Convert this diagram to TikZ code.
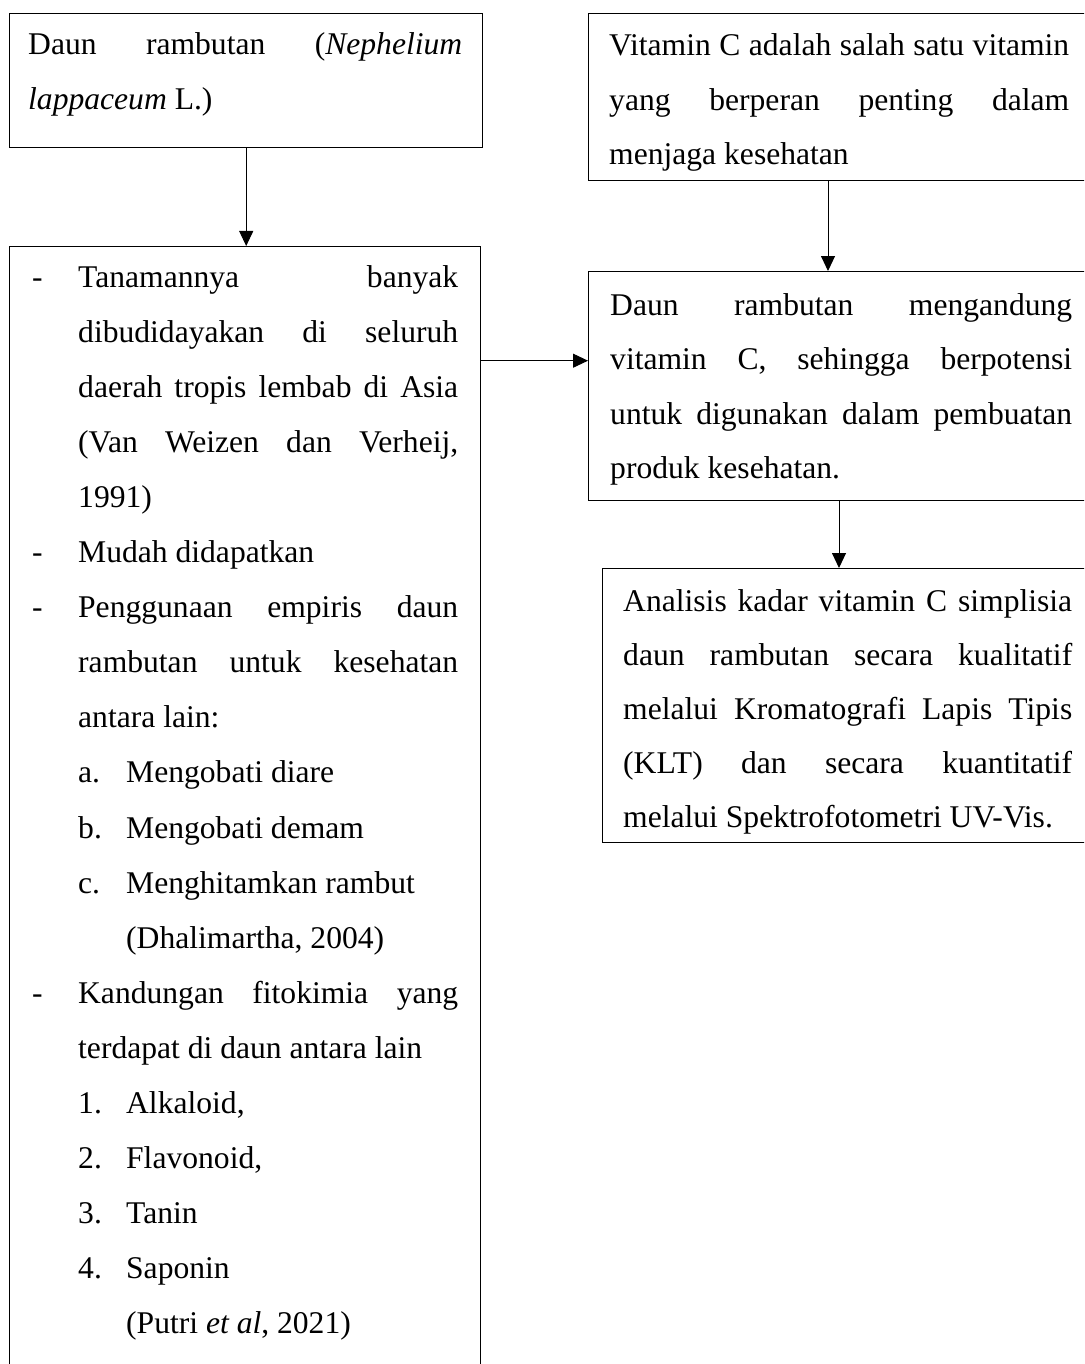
\documentclass[tikz,border=0pt]{standalone}
\usepackage{fontspec}
\setmainfont{Liberation Serif}
\usetikzlibrary{arrows.meta}
\tolerance=10000
\hyphenpenalty=10000
\newcommand{\dashitem}[1]{\noindent\hangindent=46pt\hangafter=1\makebox[46pt][l]{-}#1\par}
\newcommand{\numitem}[2]{\noindent\hspace*{46pt}\makebox[48pt][l]{#1}#2\par}
\newcommand{\citeline}[1]{\noindent\hspace*{94pt}#1\par}

\begin{document}
\begin{tikzpicture}[x=1pt,y=-1pt,
box/.style={draw,line width=1.4pt,inner sep=0pt,anchor=north west},
txt/.style={inner sep=0pt,anchor=base west,align=justify,font=\fontsize{31.6}{54.5}\selectfont},
>={Triangle[length=15pt,width=14pt]}]
\useasboundingbox (0,0) rectangle (1084,1364);
\clip (0,0) rectangle (1084,1364);
% boxes
\node[box,minimum width=473pt,minimum height=134pt] (leaf) at (9,13) {};
\node[box,minimum width=471pt,minimum height=1140pt] (facts) at (9,246) {};
\node[box,minimum width=530pt,minimum height=167pt] (vitc) at (588,13) {};
\node[box,minimum width=530pt,minimum height=229pt] (potential) at (588,271) {};
\node[box,minimum width=520pt,minimum height=274pt] (analysis) at (602,568) {};
% texts
\node[txt,text width=434pt] (leaftxt) at (28,55) {Daun rambutan (\textit{Nephelium}\linebreak \textit{lappaceum} L.)};
\node[txt,text width=426pt,font=\fontsize{31.6}{55.1}\selectfont] (factstxt) at (32,287) {%
\dashitem{Tanamannya banyak\linebreak dibudidayakan di seluruh\linebreak daerah tropis lembab di Asia\linebreak (Van Weizen dan Verheij,\linebreak 1991)}%
\dashitem{Mudah didapatkan}%
\dashitem{Penggunaan empiris daun\linebreak rambutan untuk kesehatan\linebreak antara lain:}%
\numitem{a.}{Mengobati diare}%
\numitem{b.}{Mengobati demam}%
\numitem{c.}{Menghitamkan rambut}%
\citeline{(Dhalimartha, 2004)}%
\dashitem{Kandungan fitokimia yang\linebreak terdapat di daun antara lain}%
\numitem{1.}{Alkaloid,}%
\numitem{2.}{Flavonoid,}%
\numitem{3.}{Tanin}%
\numitem{4.}{Saponin}%
\citeline{(Putri \textit{et al}, 2021)}};
\node[txt,text width=460pt] (vitctxt) at (609,56) {Vitamin C adalah salah satu vitamin\linebreak yang berperan penting dalam\linebreak menjaga kesehatan};
\node[txt,text width=462pt] (potentialtxt) at (610,315) {Daun rambutan mengandung\linebreak vitamin C, sehingga berpotensi\linebreak untuk digunakan dalam pembuatan\linebreak produk kesehatan.};
\node[txt,text width=449pt,font=\fontsize{31.6}{54}\selectfont] (analysistxt) at (623,611) {Analisis kadar vitamin C simplisia\linebreak daun rambutan secara kualitatif\linebreak melalui Kromatografi Lapis Tipis\linebreak (KLT) dan secara kuantitatif\linebreak melalui Spektrofotometri UV-Vis.};
% connectors
\coordinate (entry) at ([yshift=25.5pt]potential.west);
\coordinate (vdrop) at ([xshift=240pt]vitc.south west);
\coordinate (adrop) at ([xshift=251pt]potential.south west);
\draw[line width=1pt,->] (leaf.south) -- (facts.north -| leaf.south);
\draw[line width=1pt,->] (facts.east |- entry) -- (entry);
\draw[line width=1pt,->] (vdrop) -- (vdrop |- potential.north);
\draw[line width=1pt,->] (adrop) -- (adrop |- analysis.north);
\end{tikzpicture}
\end{document}
